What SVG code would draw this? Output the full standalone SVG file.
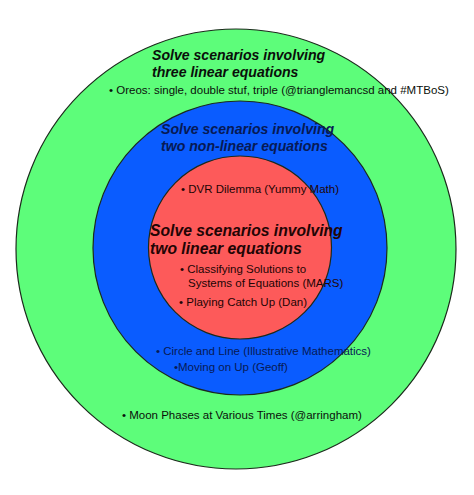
<svg xmlns="http://www.w3.org/2000/svg" width="474" height="495" viewBox="0 0 474 495">
<style>
.ring{stroke:#1c2a1c;stroke-width:1.2}
.title{font-family:"Liberation Sans",Arial,sans-serif;font-weight:bold;font-style:italic}
.item{font-family:"Liberation Sans",Arial,sans-serif;font-size:11.5px}
.onGreen{fill:#0a0f0a}
.onBlue{fill:#071a55}
.onRed{fill:#220505}
</style>
<rect width="474" height="495" fill="#ffffff"/>
<g id="outer">
<circle class="ring" cx="236" cy="249" r="220" fill="#5dfd7a"/>
<text class="title onGreen" font-size="14.1" x="152" y="60">Solve scenarios involving</text>
<text class="title onGreen" font-size="14.1" x="152" y="77">three linear equations</text>
<text class="item onGreen" x="109" y="94">•  Oreos: single, double stuf, triple (@trianglemancsd and #MTBoS)</text>
<text class="item onGreen" x="122" y="419">• Moon Phases at Various Times (@arringham)</text>
</g>
<g id="middle">
<circle class="ring" cx="240" cy="248" r="147" fill="#0a5cff"/>
<text class="title onBlue" font-size="14.1" x="161" y="134">Solve scenarios involving</text>
<text class="title onBlue" font-size="14.1" x="161" y="151">two non-linear equations</text>
<text class="item onBlue" x="156" y="355">• Circle and Line (Illustrative Mathematics)</text>
<text class="item onBlue" x="174" y="371">•Moving on Up (Geoff)</text>
</g>
<g id="inner">
<circle class="ring" cx="240" cy="247.5" r="91.5" fill="#fd5a5a"/>
<text class="item onRed" x="181" y="193">•  DVR Dilemma (Yummy Math)</text>
<text class="title onRed" font-size="15.7" x="150" y="236">Solve scenarios involving</text>
<text class="title onRed" font-size="15.7" x="150" y="254">two linear equations</text>
<text class="item onRed" x="180" y="273">• Classifying Solutions to</text>
<text class="item onRed" x="188" y="287">Systems of Equations (MARS)</text>
<text class="item onRed" x="179" y="306">•  Playing Catch Up (Dan)</text>
</g>
<g id="connectors"/>
</svg>
